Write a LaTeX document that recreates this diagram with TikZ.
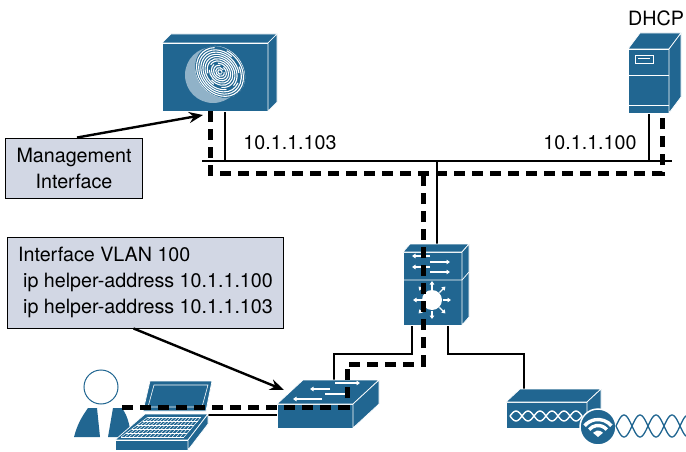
\documentclass[tikz,border=0pt]{standalone}
\usepackage{fontspec}
\setmainfont{TeX Gyre Heros}
\usetikzlibrary{arrows.meta, calc, backgrounds}
\definecolor{devblue}{RGB}{33,102,145}
\definecolor{notebg}{RGB}{210,215,228}
% top and right faces of a box whose front face is node #1
\newcommand{\devsides}[3]{%
  \filldraw[dev] (#1.north west) -- ++(#2,#3) -- ($(#1.north east)+(#2,#3)$)
    -- (#1.north east) -- cycle;
  \filldraw[dev] (#1.north east) -- ++(#2,#3) -- ($(#1.south east)+(#2,#3)$)
    -- (#1.south east) -- cycle;}
\tikzset{
  dev/.style  ={fill=devblue, draw=white, line width=0.7pt},
  face/.style ={dev, rectangle, inner sep=0pt, outer sep=0pt},
  wire/.style ={line width=2pt},
  flow/.style ={line width=5pt, dash pattern=on 11pt off 7pt},
  ptr/.style  ={-{Stealth[length=14pt, width=11pt]}, line width=2.4pt},
  warr/.style ={white, line width=1.3pt, -{Triangle[length=3.5pt, width=4.5pt]}},
  note/.style ={draw, fill=notebg, line width=0.9pt, inner xsep=11pt},
}

\begin{document}
\begin{tikzpicture}[x=1pt, y=1pt, font=\fontsize{19.7}{26}\selectfont]
  \useasboundingbox (0,0) rectangle (686,451);

  % identity appliance
  \node[face, minimum width=106pt, minimum height=68pt] (ise) at (215,374) {};
  \devsides{ise}{9}{9}
  \fill[devblue!50!white] (213,376) circle (28);
  \begin{scope}[shift={(220,379)}, rotate=40]
    \fill[devblue] (0,0) ellipse [x radius=23, y radius=28];
    \clip (0,0) ellipse [x radius=23, y radius=28];
    \foreach \r [count=\i] in {2.4,4.8,...,34}
      \draw[white, line width=1.1pt] (0,0) ++({-100+47*\i}:{0.8*\r} and {\r})
        arc[start angle=-100+47*\i, end angle=230+47*\i, x radius=0.8*\r, y radius=\r];
  \end{scope}

  % DHCP server
  \node[face, minimum width=41pt, minimum height=64pt] (dhcp) at (648.5,370) {};
  \devsides{dhcp}{12}{16}
  \draw[white, line width=0.7pt] (628,376) -- (669,376) (628,346) -- (669,346);
  \draw[white, line width=0.8pt] (635,388) rectangle (653,396);
  \draw[white, line width=1pt] (638,392) -- (650,392);
  \node (dhcp-lbl) at (656,433) {DHCP};

  % multilayer switch
  \node[face, minimum width=59pt, minimum height=73pt] (core) at (432.5,162.5) {};
  \devsides{core}{7}{8}
  \draw[white, line width=0.7pt] (403,171) -- (462,171) -- (469,179);
  \draw[warr] (430,195) -- (412,195);
  \draw[warr] (430,189) -- (450,189);
  \draw[warr] (430,184) -- (412,184);
  \draw[warr] (430,179) -- (450,179);
  \fill[white] (432,151) circle (10);
  \foreach \a in {0,45,...,315}
    \draw[warr] (432,151) ++(\a:10.5) -- ++(\a:8.5);

  % access switch
  \node[face, minimum width=76pt, minimum height=24pt] (access) at (315,35) {};
  \devsides{access}{26}{24}
  \draw[warr] (335,68) -- (360,68);
  \draw[warr] (330,62) -- (310,62);
  \draw[warr] (325,57) -- (350,57);
  \draw[warr] (322,52) -- (293,52);

  % access point
  \node[face, minimum width=81pt, minimum height=26pt] (ap) at (546.5,36) {};
  \devsides{ap}{14}{13}
  \foreach \sg in {1,-1}
    \draw[white, line width=1.4pt, domain=0:72, samples=73, smooth, variable=\t]
      plot ({510+\t},{35+\sg*5*sin(15*\t)});
  \filldraw[fill=devblue, draw=white, line width=1.5pt] (598,24) circle (18);
  \fill[white] (598,14) -- ++(40:6.5) arc[start angle=40, end angle=140, radius=6.5] -- cycle;
  \foreach \r in {11.5,17.5}
    \draw[white, line width=3.4pt] (598,14) ++(40:\r) arc[start angle=40, end angle=140, radius=\r];
  \foreach \sg in {1,-1}
    \draw[devblue, line width=1.3pt, domain=0:70, samples=80, smooth, variable=\t]
      plot ({616+\t},{25+\sg*11*sin(11.25*\t)});

  % user and laptop
  \filldraw[fill=white, draw=devblue, line width=1pt] (101,64) circle (17);
  \fill[devblue] (74,14) to[out=75, in=235] (88,43) -- (97,43) -- (100,14) -- cycle;
  \fill[devblue] (132,14) to[out=105, in=-55] (122,43) -- (113,43) -- (108,14) -- cycle;
  \filldraw[dev] (143,40) -- (150,70) -- (212,70) -- (206,40) -- cycle;
  \draw[white, line width=0.6pt] (148,44) -- (154,66) -- (208,66) -- (202,44) -- cycle;
  \filldraw[dev] (115,11) -- (188,11) -- (208,37) -- (145,37) -- cycle;
  \filldraw[dev] (115,1) rectangle (188,11);
  \filldraw[dev] (188,1) -- (208,27) -- (208,37) -- (188,11) -- cycle;
  \foreach \i in {0,...,5}
    \draw[white, line width=0.5pt] ($(121,14)!\i/5!(148,34)$) -- ($(184,14)!\i/5!(201,34)$);
  \foreach \i in {0,...,16}
    \draw[white, line width=0.5pt] ($(121,14)!\i/16!(184,14)$) -- ($(148,34)!\i/16!(201,34)$);

  % addresses
  \node (ip-ise) at (290,308) {10.1.1.103};
  \node (ip-dhcp) at (590,308) {10.1.1.100};

  % cabling
  \coordinate (bus-w) at (202,290);
  \coordinate (bus-e) at (672,290);
  \coordinate (ise-s) at ([xshift=10pt]ise.south);
  \coordinate (dhcp-s) at (dhcp.south);
  \coordinate (core-n) at ([xshift=4.5pt]core.north);
  \coordinate (pc-s) at (208,36);
  \begin{pgfonlayer}{background}
    \draw[wire] (bus-w) -- (bus-e);
    \draw[wire] (ise-s) -- (ise-s |- bus-w);
    \draw[wire] (dhcp-s) -- (dhcp-s |- bus-w);
    \draw[wire] (core-n) -- (core-n |- bus-w);
    \draw[wire] ([xshift=-20.5pt]core.south) -- ++(0,-29) -| ([xshift=19pt]access.north);
    \draw[wire] ([xshift=15.5pt]core.south) -- ++(0,-29) -| ([xshift=-22.5pt]ap.north);
    \draw[wire] (pc-s) -- (access.west |- pc-s);
  \end{pgfonlayer}

  % DHCP relay path
  \coordinate (pc-f) at (122,44);
  \coordinate (acc-f) at (347,87);
  \coordinate (core-f) at ([xshift=-9.5pt]core.north);
  \coordinate (flow-e) at (662,278);
  \draw[flow] (pc-f) -| (acc-f) -| (core-f |- flow-e);
  \draw[flow] ([xshift=-5pt]ise.south) |- (flow-e) -- ([xshift=13.5pt]dhcp.south);

  % callouts
  \node[note, minimum width=132pt, minimum height=60pt, align=center] (mgmt)
    at (74,283) {Management\\Interface};
  \node[note, minimum width=275pt, minimum height=91pt, align=left] (vlan)
    at (145.5,168.5) {Interface VLAN 100\\\hspace*{5pt}ip helper-address 10.1.1.100\\
      \hspace*{5pt}ip helper-address 10.1.1.103};
  \coordinate (ise-tip) at ([shift={(41,-4)}]ise.south west);
  \coordinate (acc-tip) at (284,61);
  \draw[ptr] ([xshift=3pt]mgmt.north) -- (ise-tip);
  \draw[ptr] ([xshift=-12pt]vlan.south) -- (acc-tip);
\end{tikzpicture}
\end{document}
